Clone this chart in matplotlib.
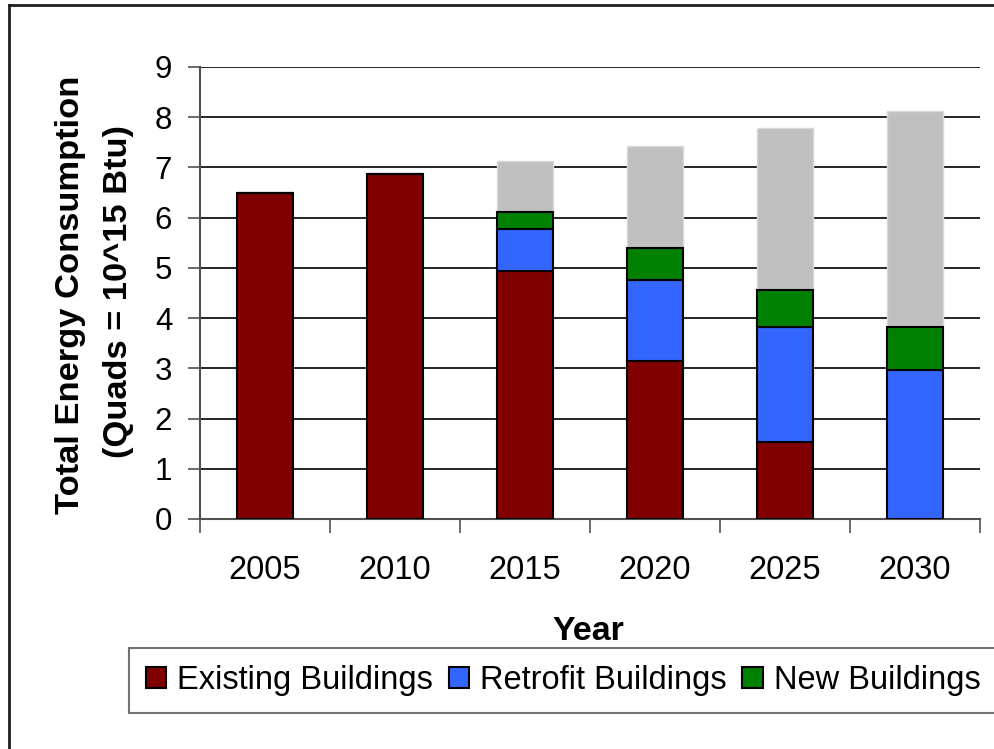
import numpy as np
import matplotlib.pyplot as plt
from matplotlib.lines import Line2D
from matplotlib.patches import Patch

plt.rcParams['font.family'] = ['Liberation Sans', 'DejaVu Sans']

# Dados
anos = ['2005', '2010', '2015', '2020', '2025', '2030']
existentes = [6.5, 6.87, 4.94, 3.15, 1.53, 0.0]
reformados = [0.0, 0.0, 0.83, 1.60, 2.30, 2.97]
novos = [0.0, 0.0, 0.35, 0.65, 0.72, 0.86]
total = [6.5, 6.87, 7.12, 7.42, 7.78, 8.13]

x = np.arange(len(anos))
base2 = np.array(existentes) + np.array(reformados)
base3 = base2 + np.array(novos)
cinza = np.array(total) - base3

fig = plt.figure(figsize=(9.94, 7.49), dpi=100)
ax = fig.add_axes([200/994, 230/749, 780/994, 452/749])

largura = 0.43
ax.bar(x, existentes, largura, color='#800000', edgecolor='black', linewidth=1.5, zorder=3)
ax.bar(x, reformados, largura, bottom=existentes, color='#3366FF', edgecolor='black', linewidth=1.5, zorder=3)
ax.bar(x, novos, largura, bottom=base2, color='#008000', edgecolor='black', linewidth=1.5, zorder=3)
ax.bar(x, cinza, largura, bottom=base3, color='#C0C0C0', edgecolor='#D8D8D8', linewidth=1, zorder=2)

# Eixos
ax.set_xlim(-0.5, 5.5)
ax.set_ylim(0, 9)
ax.set_yticks(range(0, 10))
ax.tick_params(axis='y', labelsize=22.5, length=9, width=1.2, color='#505050', pad=11)
ax.set_xticks(x)
ax.set_xticklabels(anos)
ax.tick_params(axis='x', which='major', labelsize=23.5, length=0, pad=26)
ax.set_xticks(np.arange(-0.5, 6, 1), minor=True)
ax.tick_params(axis='x', which='minor', length=10, width=1.2, color='#505050')
ax.grid(axis='y', color='black', linewidth=1.2, zorder=0)
ax.set_axisbelow(True)
for lado in ['top', 'right']:
    ax.spines[lado].set_visible(False)
for lado in ['left', 'bottom']:
    ax.spines[lado].set_color('#505050')
    ax.spines[lado].set_linewidth(1.5)

# Títulos
fig.text(71/994, 1 - 295/749, 'Total Energy Consumption', rotation=90,
         ha='center', va='center', fontsize=24.8, fontweight='bold')
fig.text(119/994, 1 - 292/749, '(Quads = 10^15 Btu)', rotation=90,
         ha='center', va='center', fontsize=24.8, fontweight='bold')
fig.text(588/994, 1 - 631/749, 'Year', ha='center', va='center', fontsize=24.5, fontweight='bold')

# Legenda
handles = [Patch(facecolor='#800000', edgecolor='black', linewidth=1.5),
           Patch(facecolor='#3366FF', edgecolor='black', linewidth=1.5),
           Patch(facecolor='#008000', edgecolor='black', linewidth=1.5)]
leg = fig.legend(handles, ['Existing Buildings', 'Retrofit Buildings', 'New Buildings'],
                 loc='upper left', bbox_to_anchor=(129/994, 1 - 648/749),
                 ncol=3, fontsize=23.5, frameon=True, fancybox=False,
                 handlelength=0.62, handleheight=0.62, handletextpad=0.34,
                 borderpad=0.52, columnspacing=0.48, borderaxespad=0)
leg.get_frame().set_edgecolor('#505050')
leg.get_frame().set_linewidth(1.5)

# Moldura externa
fig.add_artist(Line2D([9/994, 9/994], [0, 1 - 5/749], color='#202020', linewidth=2))
fig.add_artist(Line2D([9/994, 1], [1 - 5/749, 1 - 5/749], color='#202020', linewidth=2))

plt.savefig('out.png', dpi=100)
